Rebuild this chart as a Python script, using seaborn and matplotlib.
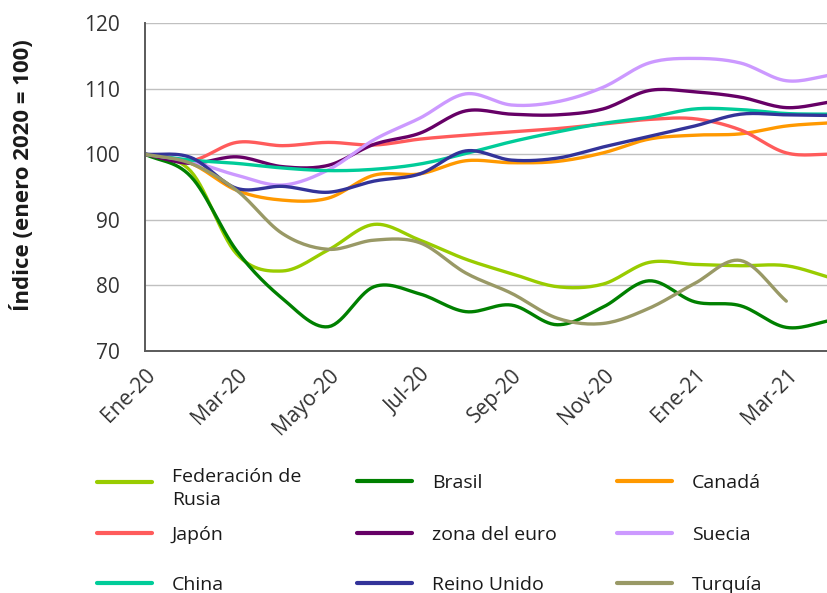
import numpy as np
import pandas as pd
import seaborn as sns
import matplotlib.pyplot as plt
from matplotlib.lines import Line2D

# meses (Ene-20 .. Abr-21)
meses = ["Ene-20", "Feb-20", "Mar-20", "Abr-20", "Mayo-20", "Jun-20", "Jul-20", "Ago-20",
         "Sep-20", "Oct-20", "Nov-20", "Dic-20", "Ene-21", "Feb-21", "Mar-21", "Abr-21"]

rusia = [100, 97.4, 84.8, 82.2, 85.4, 89.3, 86.9, 84.0, 81.8, 79.8, 80.2, 83.5, 83.2, 83.0, 83.0, 81.1]
brasil = [100, 96.6, 85.3, 78.0, 73.7, 79.8, 78.7, 76.0, 77.0, 74.0, 76.7, 80.7, 77.5, 76.9, 73.6, 74.7]
canada = [100, 98.6, 94.5, 93.0, 93.3, 96.8, 97.0, 99.0, 98.7, 98.9, 100.2, 102.3, 102.9, 103.1, 104.3, 104.8]
japon = [100, 99.0, 101.8, 101.3, 101.8, 101.4, 102.3, 102.9, 103.4, 103.9, 104.6, 105.3, 105.4, 103.7, 100.2, 100.0]
euro = [100, 98.6, 99.6, 98.1, 98.3, 101.5, 103.2, 106.6, 106.1, 106.0, 106.9, 109.7, 109.5, 108.7, 107.1, 108.0]
suecia = [100, 98.9, 96.8, 95.3, 97.6, 102.2, 105.5, 109.2, 107.5, 108.0, 110.2, 113.9, 114.6, 113.9, 111.2, 112.1]
china = [100, 99.1, 98.6, 97.9, 97.5, 97.7, 98.5, 100.1, 101.9, 103.4, 104.7, 105.6, 106.9, 106.8, 106.2, 106.1]
reino = [100, 99.5, 94.8, 95.1, 94.2, 95.9, 97.0, 100.5, 99.1, 99.4, 101.1, 102.7, 104.3, 106.1, 106.0, 105.9]
turquia = [100, 98.6, 94.5, 87.9, 85.5, 86.9, 86.5, 81.9, 78.8, 75.0, 74.2, 76.5, 80.3, 83.8, 77.6, np.nan]

series = {
    "Federación de\nRusia": (rusia, "#99CC00"),
    "Brasil": (brasil, "#008000"),
    "Canadá": (canada, "#FF9900"),
    "Japón": (japon, "#FF5B5B"),
    "zona del euro": (euro, "#660066"),
    "Suecia": (suecia, "#CC99FF"),
    "China": (china, "#00CC99"),
    "Reino Unido": (reino, "#333399"),
    "Turquía": (turquia, "#999966"),
}


def suavizar(vals, n=16):
    # curva suavizada tipo Excel (Catmull-Rom) entre puntos mensuales
    y = np.array(vals, dtype=float)
    x = np.arange(len(y), dtype=float)
    m = np.isfinite(y)
    p = np.column_stack([x[m], y[m]])
    p = np.vstack([2 * p[0] - p[1], p, 2 * p[-1] - p[-2]])
    t = np.linspace(0, 1, n)[:, None]
    out = []
    for i in range(1, len(p) - 2):
        p0, p1, p2, p3 = p[i - 1], p[i], p[i + 1], p[i + 2]
        c = 0.5 * ((2 * p1) + (-p0 + p2) * t + (2 * p0 - 5 * p1 + 4 * p2 - p3) * t ** 2
                   + (-p0 + 3 * p1 - 3 * p2 + p3) * t ** 3)
        out.append(c if i == 1 else c[1:])
    return np.vstack(out)


filas = []
for nombre, (vals, _) in series.items():
    c = suavizar(vals)
    filas.append(pd.DataFrame({"mes": c[:, 0], "valor": c[:, 1], "pais": nombre}))
df = pd.concat(filas, ignore_index=True)
paleta = {k: v[1] for k, v in series.items()}

sns.set_style("white")
plt.rcParams["font.family"] = ["Open Sans", "DejaVu Sans"]

fig = plt.figure(figsize=(8.28, 5.93), dpi=100)
ax = fig.add_axes([145 / 828, (593 - 351) / 593, (828 - 145) / 828, (351 - 23) / 593])

sns.lineplot(data=df, x="mes", y="valor", hue="pais", palette=paleta, sort=False,
             estimator=None, linewidth=2.4, legend=False, ax=ax)

ax.set_xlim(0, 14.91)
ax.set_ylim(70, 120)
ax.set_yticks(range(70, 121, 10))
ax.set_xticks(range(0, 15, 2))
ax.set_xticklabels(meses[0:15:2], rotation=45, ha="right", rotation_mode="anchor")
ax.yaxis.grid(True, color="#C0C0C0", linewidth=1)
ax.set_axisbelow(True)
for s in ["top", "right"]:
    ax.spines[s].set_visible(False)
for s in ["left", "bottom"]:
    ax.spines[s].set_color("#5A5A5A")
    ax.spines[s].set_linewidth(1.4)
ax.tick_params(axis="both", direction="out", length=6, width=1.2, color="#5A5A5A",
               labelsize=15, labelcolor="#333333")
ax.tick_params(axis="x", pad=4)
ax.tick_params(axis="y", pad=12)
ax.set_xlabel("")
ax.set_ylabel("Índice (enero 2020 = 100)", fontsize=16, fontweight="bold", color="#1A1A1A")
ax.yaxis.set_label_coords(-0.162, 0.535)

# leyenda en rejilla 3x3
col_x = [97, 357, 617]
fila_y = [483, 535, 585]
fs = 14
fs_px = fs * 100 / 72
for k, (nombre, (vals, color)) in enumerate(series.items()):
    fila, col = divmod(k, 3)
    dos = "\n" in nombre
    yy = fila_y[fila] + (0.35 * fs_px if dos else 0)
    leg = fig.legend(handles=[Line2D([], [], color=color, linewidth=3)], labels=[nombre],
                     loc="center left", bbox_to_anchor=(col_x[col] / 828, 1 - yy / 593),
                     frameon=False, borderpad=0, borderaxespad=0, fontsize=fs,
                     handlelength=55 / fs_px, handletextpad=20 / fs_px,
                     handleheight=3.0 if dos else 0.7)
    for t in leg.get_texts():
        t.set_color("#1A1A1A")
        if dos:
            t.set_linespacing(1.3)

fig.savefig("out.png", dpi=100)
